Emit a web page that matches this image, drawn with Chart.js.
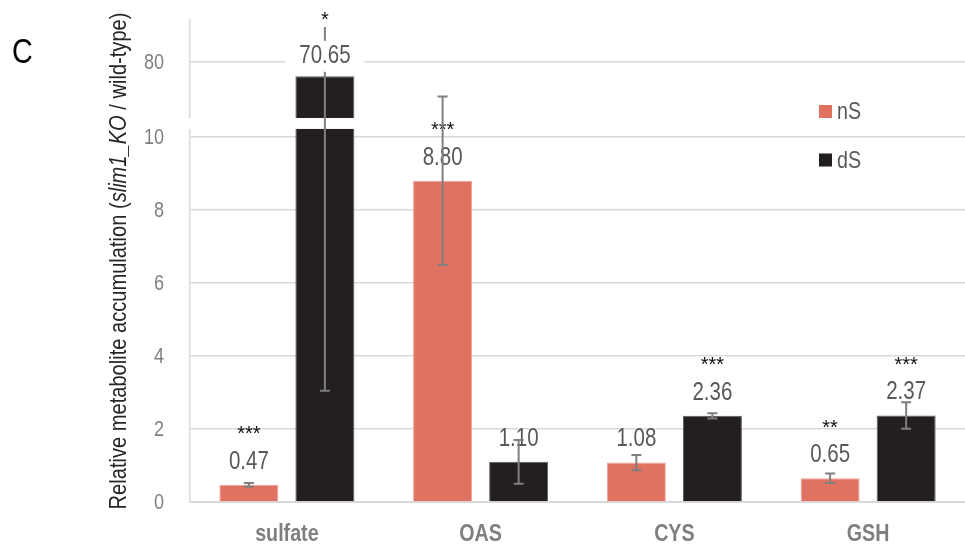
<!DOCTYPE html>
<html>
<head>
<meta charset="utf-8">
<script src="https://cdn.jsdelivr.net/npm/chart.js@4.4.1/dist/chart.umd.min.js"></script>
<style>
  html, body { margin: 0; padding: 0; background: #fff; }
  #wrap { width: 965px; height: 547px; }
</style>
</head>
<body>
<div id="wrap"><canvas id="c" width="965" height="547"></canvas></div>
<script>
// ---------------- data ----------------
const categories = ['sulfate', 'OAS', 'CYS', 'GSH'];
const nS = [0.47, 8.80, 1.08, 0.65];
const dS = [70.65, 1.10, 2.36, 2.37];
const nSErr = [0.05, 2.31, 0.21, 0.13];
const dSErr = [67.6, 0.60, 0.07, 0.36];
const nSStars = ['***', '***', '', '**'];
const dSStars = ['*', '', '***', '***'];
const lowerTicks = [0, 2, 4, 6, 8, 10];
const upperTicks = [80];
const lowerRange = [0, 10.52];
const upperRange = [43, 108];
const breakValue = 10.22;

// ---------------- style ----------------
const FONT = "'Liberation Sans', Arial, sans-serif";
const NARROW_SCALE = 0.82;
const colNS = '#E07262';
const colDS = '#231F20';
const gridCol = '#d9d9d9';
const errCol = '#7f7f7f';

const upperOnly = dS.map(v => (v > lowerRange[1] ? v : null));

// draw condensed (Arial-Narrow-like) text by horizontal scaling
function narrowText(ctx, text, x, y, font, color, align, baseline) {
  ctx.save();
  ctx.font = font;
  ctx.fillStyle = color;
  ctx.textAlign = align || 'center';
  ctx.textBaseline = baseline || 'middle';
  ctx.translate(x, y);
  ctx.scale(NARROW_SCALE, 1);
  ctx.fillText(text, 0, 0);
  ctx.restore();
}
function narrowWidth(ctx, text, font) {
  ctx.save(); ctx.font = font;
  const w = ctx.measureText(text).width * NARROW_SCALE;
  ctx.restore();
  return w;
}

function errPixel(chart, v) {
  const low = chart.scales.yLow, high = chart.scales.yHigh;
  return v >= upperRange[0] ? high.getPixelForValue(v) : low.getPixelForValue(v);
}

const brokenAxisPlugin = {
  id: 'brokenAxis',
  beforeDatasetDraw(chart, args) {
    const ys = chart.scales[args.meta.yAxisID];
    const a = chart.chartArea;
    const ctx = chart.ctx;
    ctx.save();
    ctx.beginPath();
    ctx.rect(a.left, ys.top, a.right - a.left, ys.bottom - ys.top);
    ctx.clip();
  },
  afterDatasetDraw(chart) { chart.ctx.restore(); },
  afterDatasetsDraw(chart) {
    const ctx = chart.ctx;
    const a = chart.chartArea;
    const low = chart.scales.yLow;
    // white break band
    const yb = low.getPixelForValue(breakValue);
    ctx.save();
    ctx.fillStyle = '#fff';
    ctx.fillRect(a.left - 4, low.top, a.right - a.left + 4, yb - low.top);
    ctx.restore();

    const items = [];
    chart.data.datasets.forEach((ds, i) => {
      const meta = chart.getDatasetMeta(i);
      const ys = chart.scales[ds.yAxisID];
      meta.data.forEach((el, j) => {
        const v = ds.data[j];
        if (v === null || v === undefined) return;
        if (v > ys.max) return; // clipped, drawn on the upper segment
        items.push({ ds, j, v, x: el.x, top: el.y });
      });
    });

    const drawLabel = (it) => {
      const cy = it.top - (it.ds.labelBackground ? 20 : 23);
      const txt = it.v.toFixed(2);
      const f = '25px ' + FONT;
      if (it.ds.labelBackground) {
        const w = narrowWidth(ctx, txt, f) + 28;
        ctx.save();
        ctx.fillStyle = '#fff';
        ctx.fillRect(it.x - w / 2, cy - 15.5, w, 31);
        ctx.restore();
      }
      narrowText(ctx, txt, it.x, cy, f, '#595959');
      const st = it.ds.stars[it.j];
      if (st) {
        const sy = cy - (it.ds.labelBackground ? 42 : 33);
        ctx.save();
        ctx.font = '20px ' + FONT;
        ctx.fillStyle = '#111';
        ctx.textAlign = 'center';
        ctx.textBaseline = 'alphabetic';
        ctx.fillText(st, it.x, sy + 11.5);
        ctx.restore();
      }
    };

    items.filter(it => !it.ds.labelBackground).forEach(drawLabel);

    // error bars
    ctx.save();
    ctx.strokeStyle = errCol;
    ctx.lineWidth = 2;
    items.forEach(it => {
      const e = it.ds.errors[it.j];
      if (!e) return;
      let y1 = errPixel(chart, it.v + e);
      const y2 = errPixel(chart, it.v - e);
      let cap1 = true;
      if (y1 < a.top) { y1 = a.top + 7; cap1 = false; }
      ctx.beginPath();
      ctx.moveTo(it.x, y1); ctx.lineTo(it.x, y2);
      if (cap1) { ctx.moveTo(it.x - 5, y1); ctx.lineTo(it.x + 5, y1); }
      ctx.moveTo(it.x - 5, y2); ctx.lineTo(it.x + 5, y2);
      ctx.stroke();
    });
    ctx.restore();

    items.filter(it => it.ds.labelBackground).forEach(drawLabel);
  },
  afterDraw(chart) {
    const ctx = chart.ctx;
    const a = chart.chartArea;

    // y tick labels (from the library's scales)
    ['yLow', 'yHigh'].forEach(id => {
      const s = chart.scales[id];
      s.ticks.forEach(t => {
        narrowText(ctx, String(t.value), a.left - 26, s.getPixelForValue(t.value) + 1,
          '22px ' + FONT, '#808080', 'right');
      });
    });
    // x category labels
    const xs = chart.scales.x;
    chart.data.labels.forEach((lab, i) => {
      narrowText(ctx, lab, xs.getPixelForValue(i), a.bottom + 32, 'bold 24px ' + FONT, '#7f7f7f');
    });

    // panel letter
    narrowText(ctx, 'C', 12, 63, '35px ' + FONT, '#000', 'left', 'alphabetic');

    // y title with italic part
    const parts = [
      { t: 'Relative metabolite accumulation (', f: '24.5px ' + FONT },
      { t: 'slim1_KO', f: 'italic 24.5px ' + FONT },
      { t: ' / wild-type)', f: '24.5px ' + FONT }
    ];
    ctx.save();
    let total = 0;
    parts.forEach(p => { ctx.font = p.f; p.w = ctx.measureText(p.t).width; total += p.w; });
    ctx.translate(119, 261);
    ctx.rotate(-Math.PI / 2);
    ctx.scale(NARROW_SCALE, 1);
    ctx.fillStyle = '#262626';
    ctx.textBaseline = 'middle';
    ctx.textAlign = 'left';
    let x = -total / 2;
    parts.forEach(p => { ctx.font = p.f; ctx.fillText(p.t, x, 0); x += p.w; });
    ctx.restore();

    // legend
    const leg = [
      { label: chart.data.datasets[0].label, color: chart.data.datasets[0].backgroundColor, y: 111.5 },
      { label: chart.data.datasets[1].label, color: chart.data.datasets[1].backgroundColor, y: 160 }
    ];
    leg.forEach(l => {
      ctx.save();
      ctx.fillStyle = l.color;
      ctx.fillRect(819, l.y - 6.5, 13, 13);
      ctx.restore();
      narrowText(ctx, l.label, 837, l.y + 1, '24px ' + FONT, '#595959', 'left');
    });
  }
};

const yCommon = {
  type: 'linear',
  position: 'left',
  stack: 'v',
  stacked: false,
  grid: { color: gridCol, lineWidth: 1.5, drawTicks: false },
  border: { display: true, color: gridCol, width: 1.5 },
  ticks: { display: false },
  afterFit(s) { s.width = 190; }
};

new Chart(document.getElementById('c'), {
  type: 'bar',
  data: {
    labels: categories,
    datasets: [
      { label: 'nS', data: nS, errors: nSErr, stars: nSStars, yAxisID: 'yLow', stack: 'n',
        backgroundColor: colNS, borderColor: '#efa397', borderWidth: 1 },
      { label: 'dS', data: dS, errors: dSErr, stars: dSStars, yAxisID: 'yLow', stack: 'd',
        backgroundColor: colDS, borderColor: '#5a5a5a', borderWidth: 1 },
      { label: 'dS', data: upperOnly, errors: dSErr, stars: dSStars, yAxisID: 'yHigh', stack: 'd',
        labelBackground: true, backgroundColor: colDS, borderColor: '#5a5a5a', borderWidth: 1 }
    ]
  },
  options: {
    responsive: false,
    maintainAspectRatio: false,
    animation: false,
    categoryPercentage: 0.785,
    barPercentage: 0.776,
    layout: { padding: { top: 20, right: 0, left: 0, bottom: 0 } },
    plugins: { legend: { display: false }, tooltip: { enabled: false } },
    scales: {
      x: {
        grid: { display: false, drawTicks: false },
        border: { display: true, color: gridCol, width: 2 },
        ticks: { display: false },
        afterFit(s) { s.height = 45; }
      },
      yLow: Object.assign({}, yCommon, {
        min: lowerRange[0], max: lowerRange[1], stackWeight: 384,
        afterBuildTicks(s) { s.ticks = lowerTicks.map(v => ({ value: v })); }
      }),
      yHigh: Object.assign({}, yCommon, {
        min: upperRange[0], max: upperRange[1], stackWeight: 98,
        afterBuildTicks(s) { s.ticks = upperTicks.map(v => ({ value: v })); }
      })
    }
  },
  plugins: [brokenAxisPlugin]
});
</script>
</body>
</html>
